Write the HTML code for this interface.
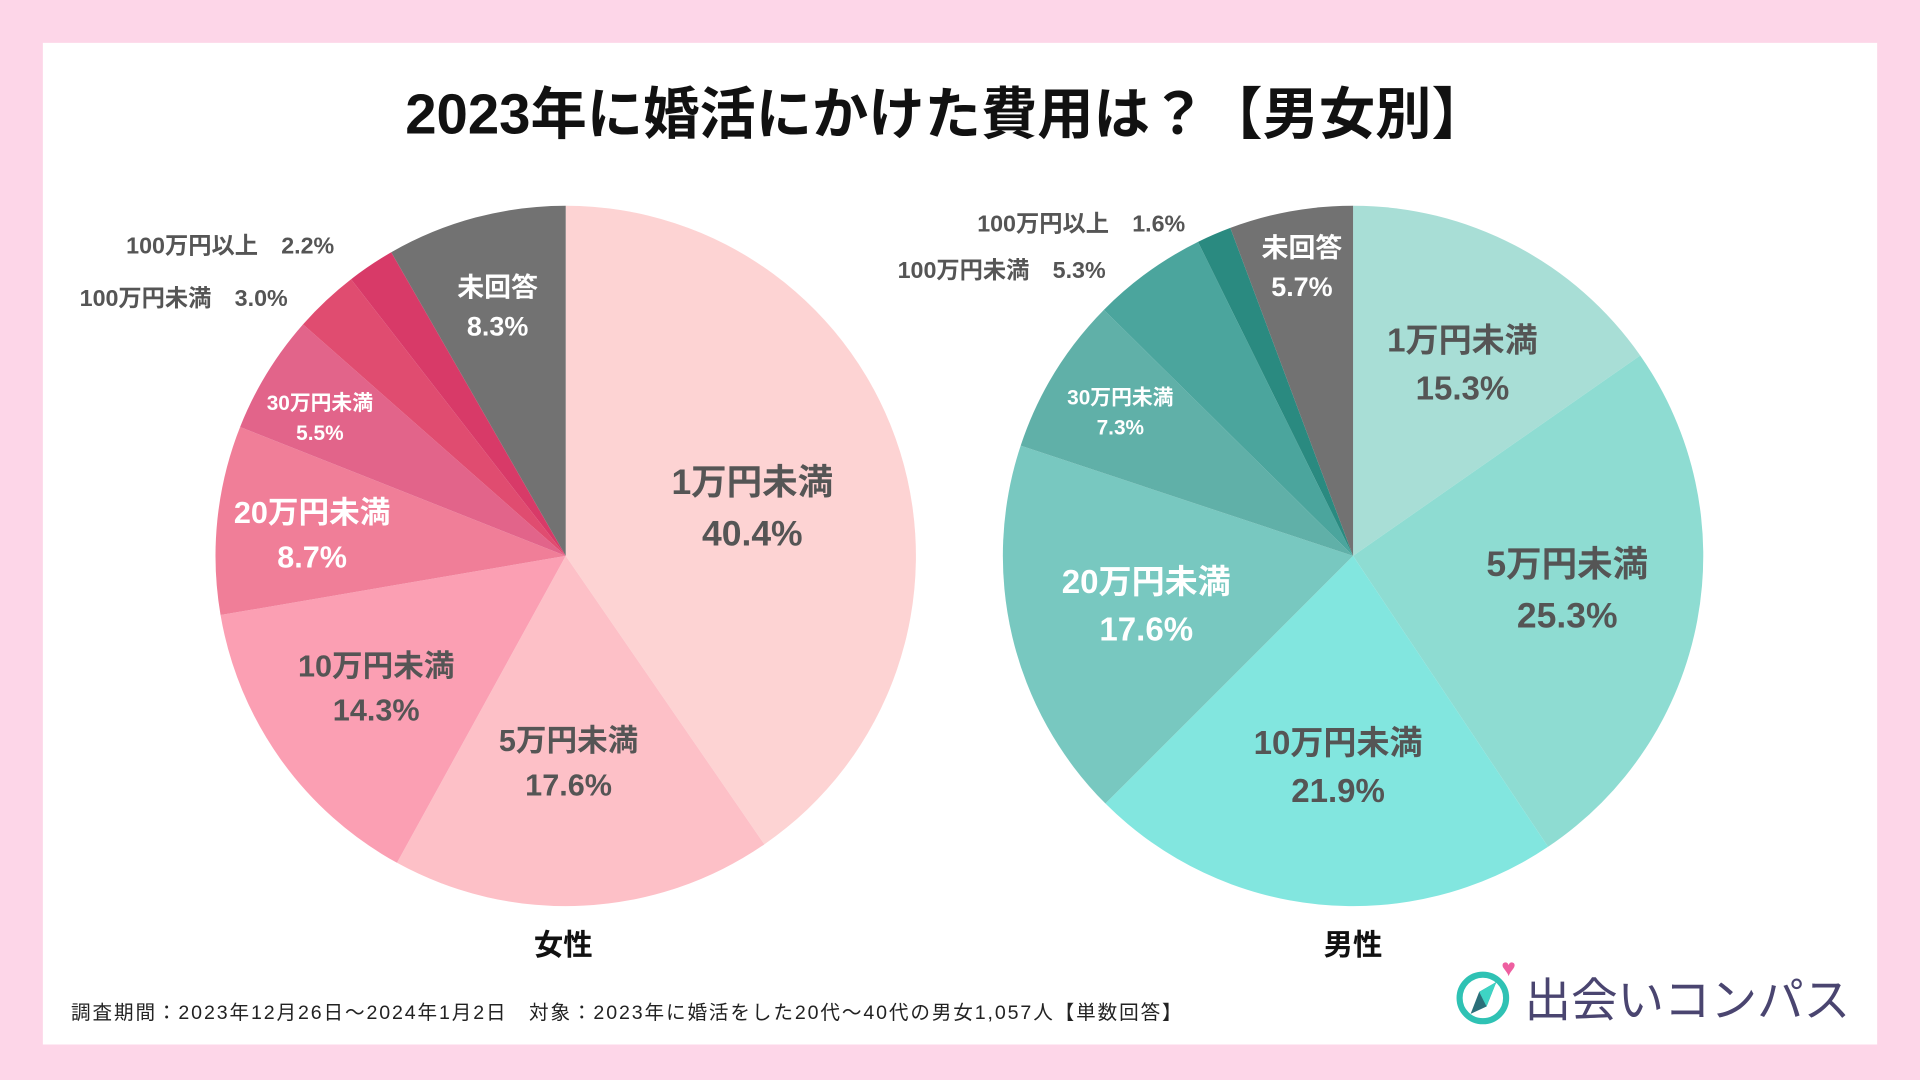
<!DOCTYPE html>
<html><head><meta charset="utf-8"><style>
html,body{margin:0;padding:0;background:#fdd6e8;}
svg{display:block;}
text{font-family:"Liberation Sans","Noto Sans CJK JP",sans-serif;font-weight:bold;}
</style></head><body>
<svg id="chart" width="1920" height="1080" viewBox="0 0 1568 882" xmlns="http://www.w3.org/2000/svg">
<rect x="0" y="0" width="1568" height="882" fill="#fdd6e8"/>
<rect x="35" y="35" width="1498" height="818" fill="#ffffff"/>
<text x="773" y="109" font-size="46" text-anchor="middle" fill="#111">2023年に婚活にかけた費用は？【男女別】</text>
<g id="pies"></g>
<text x="460" y="780" font-size="24" text-anchor="middle" fill="#111">女性</text>
<text x="1105" y="780" font-size="24" text-anchor="middle" fill="#111">男性</text>
<text x="58" y="832" font-size="16" fill="#222" style="font-weight:normal" textLength="907">調査期間：2023年12月26日〜2024年1月2日　対象：2023年に婚活をした20代〜40代の男女1,057人【単数回答】</text>
<g>
<circle cx="1211" cy="815" r="19" fill="none" stroke="#2fc2b4" stroke-width="5"/>
<polygon points="1222,802 1214,822 1201,828 1208,810" fill="#2b6f79"/>
<polygon points="1222,802 1208,810 1214,822" fill="#3ed4c4"/>
<text x="1226" y="797" font-size="20" fill="#ee5fa0">♥</text>
<text x="1245" y="830" font-size="38" fill="#4a4570" style="font-weight:normal">出会いコンパス</text>
</g>
</svg>
<script>
const femaleCategories=["1万円未満","5万円未満","10万円未満","20万円未満","30万円未満","100万円未満","100万円以上","未回答"];
const femaleValues=[40.4,17.6,14.3,8.7,5.5,3.0,2.2,8.3];
const maleCategories=["1万円未満","5万円未満","10万円未満","20万円未満","30万円未満","100万円未満","100万円以上","未回答"];
const maleValues=[15.3,25.3,21.9,17.6,7.3,5.3,1.6,5.7];
const femaleColors=["#fdd3d3","#fdc0c7","#fb9fb3","#f07e98","#e2648a","#e04c70","#d83a68","#727272"];
const maleColors=["#a8ded6","#8edcd2","#82e6df","#78c8c0","#60b0a8","#4ba59d","#2a8a80","#727272"];
const NS="http://www.w3.org/2000/svg";
const g=document.getElementById('pies');
function ang(v){return v/100*2*Math.PI;}
function pt(cx,cy,r,a){return [cx+r*Math.sin(a),cy-r*Math.cos(a)];}
function drawPie(cx,cy,r,vals,cats,cols,prefix,labelCfg){
  let a0=0;
  vals.forEach((v,i)=>{
    const a1=a0+ang(v);
    const p0=pt(cx,cy,r,a0),p1=pt(cx,cy,r,a1);
    const large=(a1-a0)>Math.PI?1:0;
    const p=document.createElementNS(NS,'path');
    p.setAttribute('d',`M${cx},${cy}L${p0[0]},${p0[1]}A${r},${r} 0 ${large} 1 ${p1[0]},${p1[1]}Z`);
    p.setAttribute('fill',cols[i]);
    
    
    g.appendChild(p);
    const c=labelCfg[i];
    const mid=(a0+a1)/2;
    let lx,ly;
    if(c.out){lx=c.x;ly=c.y;}else{const q=pt(cx,cy,r*c.f,mid);lx=q[0]+(c.dx||0);ly=q[1]+(c.dy||0);}
    const t=document.createElementNS(NS,'text');
    t.setAttribute('font-size',c.s);
    t.setAttribute('fill',c.w?'#ffffff':'#555555');
    t.setAttribute('text-anchor','middle');
    
    
    if(c.out){
      t.setAttribute('x',lx);t.setAttribute('y',ly);
      t.textContent=cats[i]+'　'+vals[i].toFixed(1)+'%';
    }else{
      const t1=document.createElementNS(NS,'tspan');t1.setAttribute('x',lx);t1.setAttribute('y',ly-c.s*0.25);t1.textContent=cats[i];
      const t2=document.createElementNS(NS,'tspan');t2.setAttribute('x',lx);t2.setAttribute('y',ly+c.s*1.2);t2.textContent=vals[i].toFixed(1)+'%';
      t.appendChild(t1);t.appendChild(t2);
    }
    g.appendChild(t);
    a0=a1;
  });
}
drawPie(462,454,286,femaleValues,femaleCategories,femaleColors,'female',[
 {f:0.58,s:29,dx:-6,dy:6},{f:0.58,s:25,dx:-6},{f:0.6,s:25,dx:-15,dy:5},{f:0.7,s:25,w:1,dx:-8},{f:0.77,s:17,w:1,dx:-13},
 {out:1,x:150,y:250,s:19},{out:1,x:188,y:207,s:19},{f:0.7,s:22,w:1,dx:-4,dy:-13}]);
drawPie(1105,454,286,maleValues,maleCategories,maleColors,'male',[
 {f:0.6,s:27,dx:10,dy:-8},{f:0.64,s:29,dx:-5,dy:-10},{f:0.62,s:27,dx:5,dy:-8},{f:0.65,s:27,w:1,dx:12,dy:-6},{f:0.8,s:17,w:1,dx:5},
 {out:1,x:818,y:227,s:19},{out:1,x:883,y:189,s:19},{f:0.82,s:22,w:1,dy:-8}]);
</script>
</body></html>
